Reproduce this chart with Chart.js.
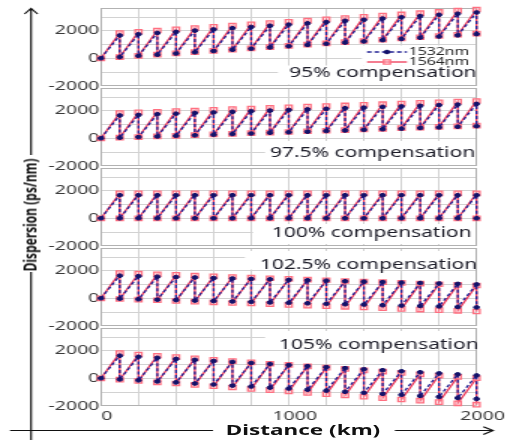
<!DOCTYPE html>
<html><head><meta charset="utf-8">
<script src="https://cdn.jsdelivr.net/npm/chart.js@4.4.1/dist/chart.umd.min.js"></script>
<style>
html,body{margin:0;padding:0;background:#fff;overflow:hidden;width:507px;height:440px}
#wrap{position:absolute;left:0;top:0;width:338px;height:440px;transform:scaleX(1.5);transform-origin:0 0}
#wrap canvas{position:absolute;left:0}
.t{position:absolute;white-space:nowrap;color:#111;font-family:"Noto Sans",sans-serif;line-height:1}
#ytitle{left:20.3px;top:215px;font-size:12px;font-weight:bold;transform:translate(-50%,-50%) rotate(-90deg)}
#xtitle{left:202px;top:429px;font-size:15px;font-weight:bold;transform:translate(-50%,-50%)}
</style></head><body>
<div id="wrap">
  <canvas id="deco" width="338" height="440" style="top:0"></canvas>
  <div class="t" id="ytitle">Dispersion (ps/nm)</div>
  <div class="t" id="xtitle">Distance (km)</div>
</div>
<script>
// ---------------- data ----------------
const startDistance = 0;
const startDispersion = 0;
const spanEnds = [100,200,300,400,500,600,700,800,900,1000,1100,1200,1300,1400,1500,1600,1700,1800,1900,2000];
const seriesNames = ['1532nm', '1564nm'];
const panelLabels = ['95% compensation', '97.5% compensation', '100% compensation', '102.5% compensation', '105% compensation'];
const yTickLabels = [-2000, 0, 2000];
const yGridValues = [-2000, -1000, 0, 1000, 2000, 3000];
const xTickLabels = [0, 1000, 2000];

// 95% compensation
const peak1532_95   = [1660,1750,1840,1920,2010,2100,2190,2280,2360,2450,2540,2630,2720,2800,2890,2980,3070,3160,3240,3330];
const trough1532_95 = [90,180,260,350,440,530,620,700,790,880,970,1060,1140,1230,1320,1410,1500,1580,1670,1760];
const peak1564_95   = [1840,1930,2020,2110,2200,2290,2380,2470,2560,2650,2740,2830,2920,3010,3100,3190,3280,3370,3460,3550];
const trough1564_95 = [90,180,270,360,450,540,630,720,810,900,990,1080,1170,1260,1350,1440,1530,1620,1710,1800];
// 97.5% compensation
const peak1532_975   = [1660,1700,1750,1790,1840,1880,1920,1970,2010,2060,2100,2140,2190,2230,2280,2320,2360,2410,2450,2500];
const trough1532_975 = [40,90,130,180,220,260,310,350,400,440,480,530,570,620,660,700,750,790,840,880];
const peak1564_975   = [1840,1890,1930,1980,2020,2070,2120,2160,2210,2250,2300,2350,2390,2440,2480,2530,2580,2620,2670,2710];
const trough1564_975 = [50,90,140,180,230,280,320,370,410,460,510,550,600,640,690,740,780,830,870,920];
// 100% compensation
const peak1532_100   = [1680,1680,1680,1680,1680,1680,1680,1680,1680,1680,1680,1680,1680,1680,1680,1680,1680,1680,1680,1680];
const trough1532_100 = [0,0,0,0,0,0,0,0,0,0,0,0,0,0,0,0,0,0,0,0];
const peak1564_100   = [1810,1810,1810,1810,1810,1810,1810,1810,1810,1810,1810,1810,1810,1810,1810,1810,1810,1810,1810,1810];
const trough1564_100 = [0,0,0,0,0,0,0,0,0,0,0,0,0,0,0,0,0,0,0,0];
// 102.5% compensation
const peak1532_1025   = [1640,1610,1570,1540,1510,1470,1440,1410,1380,1340,1310,1280,1240,1210,1180,1140,1110,1080,1050,1010];
const trough1532_1025 = [-30,-70,-100,-130,-170,-200,-230,-260,-300,-330,-360,-400,-430,-460,-500,-530,-560,-590,-630,-660];
const peak1564_1025   = [1840,1790,1740,1700,1650,1600,1550,1500,1460,1410,1360,1310,1260,1220,1170,1120,1070,1020,980,930];
const trough1564_1025 = [-50,-100,-140,-190,-240,-290,-340,-380,-430,-480,-530,-580,-620,-670,-720,-770,-820,-860,-910,-960];
// 105% compensation
const peak1532_105   = [1640,1560,1490,1410,1340,1260,1190,1110,1040,960,890,810,740,660,590,510,440,360,290,210];
const trough1532_105 = [-80,-150,-230,-300,-380,-450,-530,-600,-680,-750,-830,-900,-980,-1050,-1130,-1200,-1280,-1350,-1430,-1500];
const peak1564_105   = [1830,1730,1640,1540,1450,1350,1250,1160,1060,970,870,770,680,580,490,390,290,200,100,10];
const trough1564_105 = [-100,-190,-290,-380,-480,-580,-670,-770,-860,-960,-1060,-1150,-1250,-1340,-1440,-1540,-1630,-1730,-1820,-1920];

const panelSeries = [
  [[peak1532_95, trough1532_95], [peak1564_95, trough1564_95]],
  [[peak1532_975, trough1532_975], [peak1564_975, trough1564_975]],
  [[peak1532_100, trough1532_100], [peak1564_100, trough1564_100]],
  [[peak1532_1025, trough1532_1025], [peak1564_1025, trough1564_1025]],
  [[peak1532_105, trough1532_105], [peak1564_105, trough1564_105]]
];

function sawtooth(peaks, troughs) {
  const pts = [{x: startDistance, y: startDispersion}];
  spanEnds.forEach((d, i) => {
    pts.push({x: d, y: peaks[i]});
    pts.push({x: d, y: troughs[i]});
  });
  return pts;
}

// ---------------- layout / style ----------------
Chart.defaults.font.family = '"Noto Sans", sans-serif';
const FONT = '"Noto Sans", sans-serif';
const Y_MIN = -2000, Y_MAX = 3650;
const PLOT_LEFT = 67.3, PLOT_RIGHT = 317.7, W = 338;
const layoutPanels = [
  {top: -4,  h: 100, boxes: [[241.3, 45.5, 65.5], [185.3, 65.5, 84.5]], tx: 192.7, ty: 73, legend: true},
  {top: 76,  h: 100, boxes: [[176.7, 141, 164.5]], tx: 180, ty: 153},
  {top: 156, h: 100, boxes: [[168.7, 224, 244]], tx: 181.3, ty: 233},
  {top: 236, h: 100, boxes: [[163.3, 251, 269.5]], tx: 173.3, ty: 265},
  {top: 316, h: 124, boxes: [[176.7, 331, 349]], tx: 186, ty: 345, last: true}
];
const PLOT_H = 77.7, PAD_TOP = 12.1, XAXIS_H = 20;
const legendRowsY = [52, 62];
const seriesStyles = [
  {borderColor: '#1e1e92', borderWidth: 1.3, borderDash: [3, 2], pointStyle: 'circle', pointRadius: 1.8,
   pointBackgroundColor: '#12126a', pointBorderColor: '#12126a', pointBorderWidth: 1},
  {borderColor: '#ee3656', borderWidth: 1.3, borderDash: [], pointStyle: 'rect', pointRadius: 3.1,
   pointBackgroundColor: 'rgba(255,225,228,0.35)', pointBorderColor: '#ff6f80', pointBorderWidth: 1.3}
];

const panelDecor = {
  id: 'panelDecor',
  beforeDatasetsDraw(chart) {
    const o = chart.options.plugins.panelDecor;
    const ctx = chart.ctx, a = chart.chartArea, off = o.top;
    ctx.save();
    ctx.fillStyle = '#ffffff';
    o.boxes.forEach(b => ctx.fillRect(b[0], b[1] - off, a.right - b[0], b[2] - b[1]));
    ctx.strokeStyle = '#b2b2b2'; ctx.lineWidth = 1;
    ctx.strokeRect(Math.round(a.left) + 0.5, Math.round(a.top) + 0.5,
                   Math.round(a.right) - Math.round(a.left) - 1, Math.round(a.bottom) - Math.round(a.top) - 1);
    ctx.fillStyle = '#1c1c28';
    ctx.font = '14px ' + FONT; ctx.textBaseline = 'middle'; ctx.textAlign = 'left';
    ctx.fillText(o.label, o.tx, o.ty - off);
    if (o.legend) {
      chart.data.datasets.forEach((ds, i) => {
        const y = legendRowsY[i] - off;
        ctx.strokeStyle = ds.borderColor; ctx.lineWidth = ds.borderWidth;
        ctx.setLineDash(ds.borderDash);
        ctx.beginPath(); ctx.moveTo(244.7, y); ctx.lineTo(271.3, y); ctx.stroke();
        ctx.setLineDash([]);
        ctx.fillStyle = ds.pointBackgroundColor; ctx.strokeStyle = ds.pointBorderColor; ctx.lineWidth = ds.pointBorderWidth;
        ctx.beginPath();
        if (ds.pointStyle === 'circle') ctx.arc(258, y, ds.pointRadius, 0, Math.PI * 2);
        else { const s = Math.SQRT1_2 * ds.pointRadius; ctx.rect(258 - s, y - s, 2 * s, 2 * s); }
        ctx.fill(); ctx.stroke();
        ctx.fillStyle = '#262626'; ctx.font = '10.5px ' + FONT;
        ctx.fillText(ds.label, 272.5, y);
      });
    }
    ctx.restore();
  }
};

const wrap = document.getElementById('wrap');
layoutPanels.forEach((L, k) => {
  const cv = document.createElement('canvas');
  cv.width = W; cv.height = L.h; cv.style.top = L.top + 'px';
  wrap.appendChild(cv);
  const padBottom = L.h - PAD_TOP - PLOT_H - (L.last ? XAXIS_H : 0);
  const datasets = seriesNames.map((name, s) => Object.assign({
    label: name,
    data: sawtooth(panelSeries[k][s][0], panelSeries[k][s][1]),
    fill: false, tension: 0, clip: false
  }, seriesStyles[s]));
  new Chart(cv, {
    type: 'line',
    data: {datasets},
    options: {
      responsive: false, animation: false, devicePixelRatio: 1,
      layout: {padding: {top: PAD_TOP, bottom: padBottom, left: 0, right: W - PLOT_RIGHT}},
      plugins: {
        legend: {display: false}, tooltip: {enabled: false},
        panelDecor: {top: L.top, boxes: L.boxes, label: panelLabels[k], tx: L.tx, ty: L.ty, legend: !!L.legend}
      },
      scales: {
        x: {
          type: 'linear', min: 0, max: 2000,
          grid: {color: '#d2d2d2', drawTicks: false},
          border: {display: false},
          ticks: {
            display: !!L.last, stepSize: 200, autoSkip: false, maxRotation: 0, labelOffset: 4, padding: 3,
            color: '#3a3a3a', font: {size: 13, family: FONT},
            callback: v => xTickLabels.includes(v) ? String(v) : ''
          },
          afterFit: s => { s.height = L.last ? XAXIS_H : 0; }
        },
        y: {
          type: 'linear', min: Y_MIN, max: Y_MAX,
          grid: {color: '#d2d2d2', drawTicks: false},
          border: {display: true, color: '#8e8e8e'},
          ticks: {
            autoSkip: false, padding: 1,
            color: '#3a3a3a', font: {size: 13, family: FONT},
            callback: v => yTickLabels.includes(v) ? String(v) : ''
          },
          afterBuildTicks: s => { s.ticks = yGridValues.map(v => ({value: v})); },
          afterFit: s => { s.width = PLOT_LEFT; }
        }
      }
    },
    plugins: [panelDecor]
  });
});

// ---------------- big axis arrows ----------------
const dc = document.getElementById('deco').getContext('2d');
dc.strokeStyle = '#111'; dc.lineWidth = 1.2;
dc.beginPath();
dc.moveTo(20.7, 440); dc.lineTo(20.7, 272);
dc.moveTo(20.7, 155); dc.lineTo(20.7, 8.5);
dc.moveTo(16.3, 14); dc.lineTo(20.7, 8.5); dc.lineTo(25.1, 14);
dc.moveTo(6.7, 430.5); dc.lineTo(142, 430.5);
dc.moveTo(263.3, 430.5); dc.lineTo(328.7, 430.5);
dc.moveTo(322.2, 426.7); dc.lineTo(328.7, 430.5); dc.lineTo(322.2, 434.5);
dc.stroke();
</script>
</body></html>
